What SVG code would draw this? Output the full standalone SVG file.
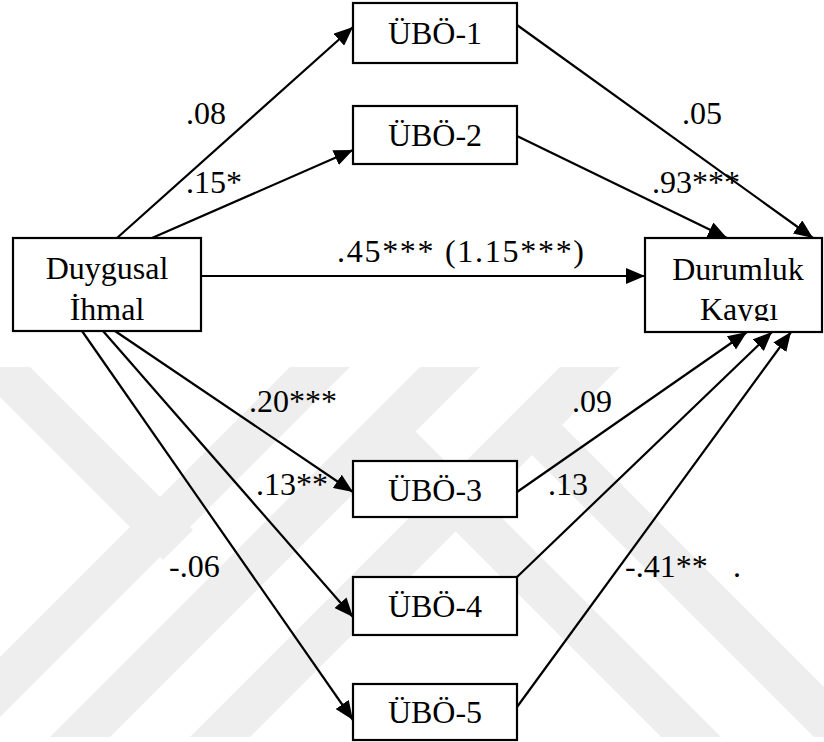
<svg xmlns="http://www.w3.org/2000/svg" width="824" height="742" viewBox="0 0 824 742">
<defs>
<style>
.box{fill:#fff;stroke:#000;stroke-width:2.2}
.t{font-family:"Liberation Serif","Times New Roman",serif;font-size:32px;fill:#000}
.m{text-anchor:middle}
.c{stroke:#000;stroke-width:2.2;fill:none;marker-end:url(#ah)}
.wm{fill:#eeeeee}
</style>
<marker id="ah" markerUnits="userSpaceOnUse" markerWidth="20" markerHeight="16" refX="19" refY="8" orient="auto">
<path d="M0,0 L19,8 L0,16 z" fill="#000"/>
</marker>
<clipPath id="kclip"><rect x="645" y="238" width="180" height="83"/></clipPath>
<clipPath id="wclip"><rect x="0" y="367" width="824" height="370"/></clipPath>
</defs>
<rect width="824" height="742" fill="#fff"/>
<g id="watermark" clip-path="url(#wclip)">
<polygon class="wm" points="0,367 30,367 193,530 163,560 0,397"/>
<polygon class="wm" points="290,367 350,367 0,717 0,657"/>
<polygon class="wm" points="420,367 480,367 110,737 50,737"/>
<polygon class="wm" points="560,367 620,367 250,737 190,737"/>
<polygon class="wm" points="532,455 562,425 874,737 814,737"/>
<polygon class="wm" points="385,461 415,431 721,737 661,737"/>
</g>
<g id="connectors">
<line class="c" x1="117" y1="238" x2="353" y2="27"/>
<line class="c" x1="152" y1="238" x2="353" y2="150"/>
<line class="c" x1="201" y1="276" x2="645" y2="276"/>
<line class="c" x1="115" y1="331" x2="353" y2="492"/>
<line class="c" x1="103" y1="331" x2="353" y2="617"/>
<line class="c" x1="82" y1="331" x2="353" y2="720"/>
<line class="c" x1="517" y1="25" x2="813" y2="238"/>
<line class="c" x1="517" y1="136" x2="727" y2="238"/>
<line class="c" x1="517" y1="492" x2="747" y2="332"/>
<line class="c" x1="517" y1="577" x2="772" y2="332"/>
<line class="c" x1="517" y1="707" x2="791" y2="332"/>
</g>
<g id="duygusal">
<rect class="box" x="13" y="238" width="188" height="93"/>
<text class="t m" x="107" y="279">Duygusal</text>
<text class="t m" x="107" y="320">İhmal</text>
</g>
<g id="durumluk">
<rect class="box" x="645" y="238" width="177" height="94"/>
<text class="t m" x="738" y="280">Durumluk</text>
<text class="t m" x="739" y="320" clip-path="url(#kclip)">Kaygı</text>
</g>
<g id="ubo1">
<rect class="box" x="353" y="3" width="164" height="60"/>
<text class="t m" x="435" y="44">ÜBÖ-1</text>
</g>
<g id="ubo2">
<rect class="box" x="353" y="106" width="164" height="58"/>
<text class="t m" x="435" y="146">ÜBÖ-2</text>
</g>
<g id="ubo3">
<rect class="box" x="353" y="461" width="164" height="56"/>
<text class="t m" x="435" y="501">ÜBÖ-3</text>
</g>
<g id="ubo4">
<rect class="box" x="353" y="577" width="164" height="58"/>
<text class="t m" x="435" y="617">ÜBÖ-4</text>
</g>
<g id="ubo5">
<rect class="box" x="353" y="684" width="164" height="56"/>
<text class="t m" x="435" y="723">ÜBÖ-5</text>
</g>
<g id="labels">
<text class="t" x="186" y="124">.08</text>
<text class="t" x="186" y="193">.15*</text>
<text class="t" x="337" y="262" textLength="247" lengthAdjust="spacing">.45*** (1.15***)</text>
<text class="t" x="682" y="124">.05</text>
<text class="t" x="652" y="193">.93***</text>
<text class="t" x="249" y="412">.20***</text>
<text class="t" x="572" y="412">.09</text>
<text class="t" x="256" y="495">.13**</text>
<text class="t" x="548" y="495">.13</text>
<text class="t" x="169" y="577">-.06</text>
<text class="t" x="625" y="577">-.41**</text>
<text class="t" x="733" y="577">.</text>
</g>
</svg>
